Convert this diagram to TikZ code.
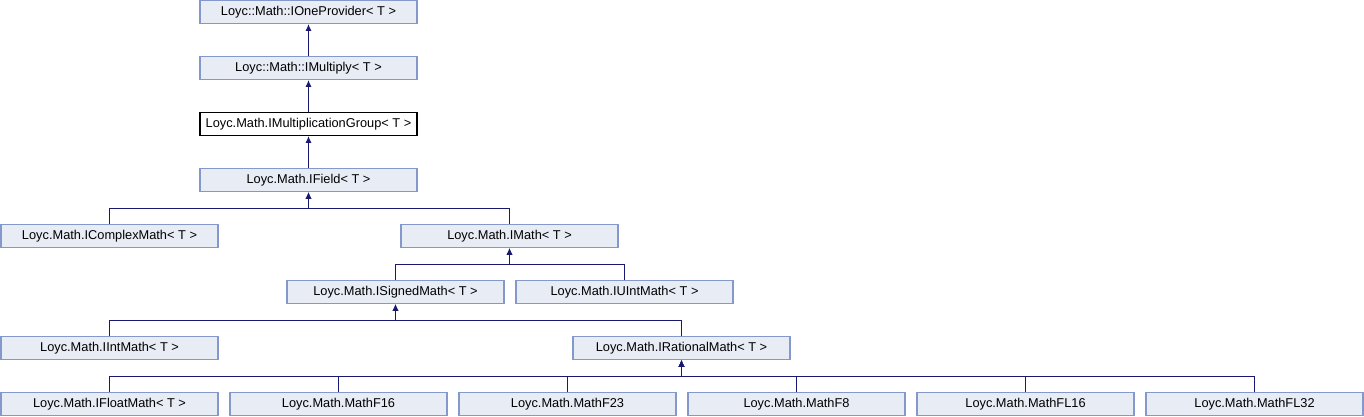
\documentclass[tikz,border=0pt]{standalone}
\usepackage{fontspec}
\setmainfont{Liberation Sans}
\usetikzlibrary{arrows.meta}
\definecolor{boxfill}{RGB}{232,236,245}
\definecolor{boxedge}{RGB}{132,152,204}
\definecolor{edgecol}{RGB}{25,25,112}
\tikzset{
  cls/.style={draw=boxedge, fill=boxfill, line width=1.2pt, minimum width=217pt, minimum height=22.5pt, inner sep=0pt, font=\fontsize{12.8}{14}\selectfont},
  clsw/.style={cls, draw=black, fill=white},
  inh/.style={draw=edgecol, line width=1.3pt, -{Latex[length=7pt,width=6pt]}}
}
\newcommand{\inh}[2]{\draw[inh] (#1.north) |- ([yshift=-16.5pt]#2.south) -- (#2.south);}
\begin{document}
\begin{tikzpicture}[x=1pt,y=-1pt]
\useasboundingbox (0,0) rectangle (1364,416);
\node[cls]  (one)  at (308.5,12) {Loyc::Math::IOneProvider< T >};
\node[cls]  (mul)  at (308.5,68) {Loyc::Math::IMultiply< T >};
\node[clsw] (grp)  at (308.5,124) {Loyc.Math.IMultiplicationGroup< T >};
\node[cls]  (fld)  at (308.5,180) {Loyc.Math.IField< T >};
\node[cls]  (cpx)  at (109.5,236) {Loyc.Math.IComplexMath< T >};
\node[cls]  (mth)  at (509.5,236) {Loyc.Math.IMath< T >};
\node[cls]  (sgn)  at (395.5,292) {Loyc.Math.ISignedMath< T >};
\node[cls]  (uin)  at (624.5,292) {Loyc.Math.IUIntMath< T >};
\node[cls]  (int)  at (109.5,348) {Loyc.Math.IIntMath< T >};
\node[cls]  (rat)  at (681.5,348) {Loyc.Math.IRationalMath< T >};
\node[cls]  (flt)  at (109.5,404) {Loyc.Math.IFloatMath< T >};
\node[cls]  (f16)  at (338.5,404) {Loyc.Math.MathF16};
\node[cls]  (f23)  at (567.5,404) {Loyc.Math.MathF23};
\node[cls]  (f8)   at (796.5,404) {Loyc.Math.MathF8};
\node[cls]  (fl16) at (1025.5,404) {Loyc.Math.MathFL16};
\node[cls]  (fl32) at (1254.5,404) {Loyc.Math.MathFL32};
\inh{mul}{one}
\inh{grp}{mul}
\inh{fld}{grp}
\inh{cpx}{fld}
\inh{mth}{fld}
\inh{sgn}{mth}
\inh{uin}{mth}
\inh{int}{sgn}
\inh{rat}{sgn}
\inh{flt}{rat}
\inh{f16}{rat}
\inh{f23}{rat}
\inh{f8}{rat}
\inh{fl16}{rat}
\inh{fl32}{rat}
\end{tikzpicture}
\end{document}
